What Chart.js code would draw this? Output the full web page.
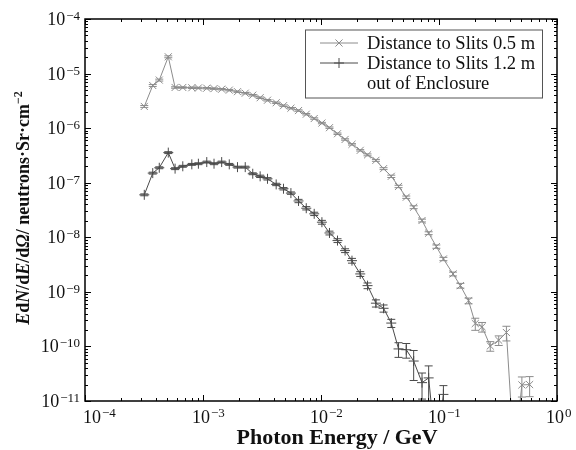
<!DOCTYPE html>
<html><head><meta charset="utf-8">
<script src="https://cdn.jsdelivr.net/npm/chart.js@4/dist/chart.umd.min.js"></script>
<style>html,body{margin:0;padding:0;background:#fff}#wrap{width:576px;height:450px}</style>
</head><body><div id="wrap"><canvas id="c" width="576" height="450"></canvas></div>
<script>
// Photon energy bins (GeV)
const energy = [3.18e-4, 3.75e-4, 4.26e-4, 5.08e-4, 5.8e-4, 6.74e-4, 8.04e-4, 9.14e-4, 1.076e-3, 1.24e-3,
  1.44e-3, 1.67e-3, 1.96e-3, 2.28e-3, 2.64e-3, 3.05e-3, 3.52e-3, 4.17e-3, 4.81e-3, 5.56e-3,
  6.45e-3, 7.5e-3, 8.76e-3, 1.018e-2, 1.18e-2, 1.38e-2, 1.6e-2, 1.83e-2, 2.15e-2, 2.48e-2,
  2.92e-2, 3.39e-2, 3.94e-2, 4.54e-2, 5.28e-2, 6.1e-2, 7.18e-2, 8.17e-2, 9.5e-2, 1.09e-1,
  1.315e-1, 1.518e-1, 1.78e-1, 2.03e-1, 2.317e-1, 2.72e-1, 3.206e-1, 3.726e-1, 4.336e-1, 5.04e-1, 5.86e-1];
// Distance to slits 0.5 m
const dist05 = [2.5e-6, 6.05e-6, 7.6e-6, 2.03e-5, 5.56e-6, 5.56e-6, 5.5e-6, 5.45e-6, 5.4e-6, 5.3e-6,
  5.17e-6, 4.97e-6, 4.66e-6, 4.37e-6, 4.02e-6, 3.61e-6, 3.25e-6, 2.92e-6, 2.58e-6, 2.32e-6,
  2.1e-6, 1.8e-6, 1.5e-6, 1.24e-6, 1.02e-6, 7.9e-7, 6.2e-7, 5.05e-7, 3.92e-7, 3.24e-7,
  2.57e-7, 1.81e-7, 1.31e-7, 8.55e-8, 5.43e-8, 3.56e-8, 2.03e-8, 1.19e-8, 6.76e-9, 4.01e-9,
  2.13e-9, 1.3e-9, 6.87e-10, 2.63e-10, 2.29e-10, 1.02e-10, 1.3e-10, 1.8e-10, 1e-12, 1.97e-11, 2.0e-11];
// Distance to slits 1.2 m, out of enclosure
const dist12 = [6.0e-8, 1.5e-7, 1.88e-7, 3.56e-7, 1.81e-7, 2.0e-7, 2.17e-7, 2.23e-7, 2.39e-7, 2.23e-7,
  2.39e-7, 2.17e-7, 1.93e-7, 1.93e-7, 1.46e-7, 1.31e-7, 1.18e-7, 9.3e-8, 7.76e-8, 6.45e-8,
  4.63e-8, 3.41e-8, 2.69e-8, 1.89e-8, 1.2e-8, 8.7e-9, 5.7e-9, 3.73e-9, 2.13e-9, 1.3e-9,
  6.2e-10, 5.0e-10, 2.68e-10, 9.0e-11, 8.7e-11, 5.4e-11, 2.17e-11, 2.65e-11, 1e-12, 1.32e-11];
// relative errors
const dist05Err = [0.04,0.04,0.04,0.04,0.03,0.03,0.03,0.03,0.03,0.03,
  0.03,0.03,0.03,0.03,0.03,0.03,0.03,0.03,0.03,0.03,
  0.03,0.03,0.03,0.03,0.03,0.03,0.03,0.03,0.03,0.04,
  0.04,0.04,0.05,0.05,0.05,0.06,0.06,0.06,0.07,0.07,
  0.08,0.1,0.12,0.25,0.2,0.2,0.2,0.3,0,0.4,0.4];
const dist12Err = [0.04,0.04,0.04,0.04,0.04,0.04,0.04,0.04,0.04,0.04,
  0.04,0.04,0.04,0.04,0.04,0.05,0.05,0.05,0.05,0.05,
  0.07,0.07,0.07,0.08,0.08,0.08,0.08,0.1,0.1,0.12,
  0.15,0.15,0.17,0.3,0.3,0.56,0.5,0.66,0,0.45];
const xDecades = [-4, -3, -2, -1, 0];
const yDecades = [-11, -10, -9, -8, -7, -6, -5, -4];
const legendLines = [['Distance to Slits 0.5 m'], ['Distance to Slits 1.2 m', 'out of Enclosure']];

const SERIF = '"Liberation Serif", "Times New Roman", serif';
const C05 = '#8c8c8c', C12 = '#4a4a4a';

function pts(ys) { return ys.map((y, i) => ({x: energy[i], y: y})); }
const visR = r => (ctx => (ctx.raw && ctx.raw.y >= 1e-11) ? r : 0);

const supMinus = s => s.replace('-', '\u2212');

const decor = {
  id: 'decor',
  afterDatasetsDraw(chart) {
    const {ctx, chartArea: a, scales: {x, y}} = chart;
    ctx.save();
    ctx.beginPath(); ctx.rect(a.left, a.top, a.right - a.left, a.bottom - a.top); ctx.clip();
    chart.data.datasets.forEach(ds => {
      ctx.strokeStyle = ds.borderColor; ctx.lineWidth = 1;
      ds.data.forEach((p, i) => {
        const r = ds.errRel[i];
        if (!r || p.y < 1e-11) return;
        const px = x.getPixelForValue(p.x);
        const hi = y.getPixelForValue(p.y * (1 + r));
        const lo = y.getPixelForValue(Math.max(p.y * (1 - r), 1e-13));
        ctx.beginPath();
        ctx.moveTo(px, hi); ctx.lineTo(px, lo);
        ctx.moveTo(px - 4, hi); ctx.lineTo(px + 4, hi);
        ctx.moveTo(px - 4, lo); ctx.lineTo(px + 4, lo);
        ctx.stroke();
      });
    });
    ctx.restore();
  },
  afterDraw(chart) {
    const {ctx, chartArea: a, scales: {x, y}} = chart;
    ctx.save();
    // frame
    ctx.strokeStyle = '#000'; ctx.lineWidth = 1.5;
    ctx.strokeRect(a.left, a.top, a.right - a.left, a.bottom - a.top);
    // ticks
    ctx.lineWidth = 1;
    ctx.beginPath();
    xDecades.forEach(k => {
      for (let m = 1; m <= 9; m++) {
        const v = m * Math.pow(10, k);
        if (v > 1.0001) break;
        const px = Math.round(x.getPixelForValue(v)) + 0.5;
        const L = m === 1 ? 6 : 3;
        ctx.moveTo(px, a.bottom); ctx.lineTo(px, a.bottom - L);
        ctx.moveTo(px, a.top); ctx.lineTo(px, a.top + L);
      }
    });
    yDecades.forEach(k => {
      for (let m = 1; m <= 9; m++) {
        const v = m * Math.pow(10, k);
        if (v > 1.0001e-4) break;
        const py = Math.round(y.getPixelForValue(v)) + 0.5;
        const L = m === 1 ? 6 : 3;
        ctx.moveTo(a.left, py); ctx.lineTo(a.left + L, py);
        ctx.moveTo(a.right, py); ctx.lineTo(a.right - L, py);
      }
    });
    ctx.stroke();
    // tick labels
    ctx.fillStyle = '#111';
    const bigF = '18px ' + SERIF, supF = '13px ' + SERIF;
    ctx.textBaseline = 'alphabetic';
    yDecades.forEach(k => {
      const py = y.getPixelForValue(Math.pow(10, k));
      const sup = supMinus(String(k));
      ctx.font = bigF; const w1 = ctx.measureText('10').width;
      ctx.font = supF; const w2 = ctx.measureText(sup).width;
      const x0 = a.left - 6 - w1 - w2;
      ctx.font = bigF; ctx.textAlign = 'left'; ctx.fillText('10', x0, py + 6);
      ctx.font = supF; ctx.fillText(sup, x0 + w1 + 1, py + 1);
    });
    xDecades.forEach(k => {
      const px = x.getPixelForValue(Math.pow(10, k));
      const sup = supMinus(String(k));
      ctx.font = bigF; const w1 = ctx.measureText('10').width;
      let x0 = px - w1 / 2 - 2;
      if (k === xDecades[0]) x0 = px - 2;
      ctx.textAlign = 'left';
      ctx.fillText('10', x0, a.bottom + 22);
      ctx.font = supF; ctx.fillText(sup, x0 + w1 + 1, a.bottom + 16);
    });
    // x title
    ctx.font = 'bold 22px ' + SERIF; ctx.textAlign = 'center';
    ctx.fillText('Photon Energy / GeV', 337, 444);
    // y title (mixed italic)
    const segs = [
      {t: 'E', i: true}, {t: 'd'}, {t: 'N', i: true}, {t: '/d'}, {t: 'E', i: true}, {t: '/d'},
      {t: '\u03A9', i: true}, {t: '/ neutrons\u00B7Sr\u00B7cm'}, {t: '\u22122', s: true}
    ];
    const fnt = sg => (sg.i ? 'italic ' : '') + 'bold ' + (sg.s ? '12px ' : '18px ') + SERIF;
    let total = 0;
    segs.forEach(sg => { ctx.font = fnt(sg); sg.w = ctx.measureText(sg.t).width; total += sg.w; });
    ctx.translate(29, (a.top + a.bottom) / 2 - 2);
    ctx.rotate(-Math.PI / 2);
    ctx.textAlign = 'left';
    let cx = -total / 2;
    segs.forEach(sg => {
      ctx.font = fnt(sg);
      ctx.fillText(sg.t, cx, sg.s ? -7 : 0);
      cx += sg.w;
    });
    ctx.setTransform(1, 0, 0, 1, 0, 0);
    // legend
    const bx = 305, by = 29.5, bw = 237, bh = 68;
    ctx.strokeStyle = '#555'; ctx.lineWidth = 1;
    ctx.fillStyle = '#fff';
    ctx.fillRect(bx, by, bw, bh);
    ctx.strokeRect(bx + 0.5, by + 0.5, bw, bh);
    const rows = [43, 63];
    chart.data.datasets.forEach((ds, i) => {
      const ly = rows[i];
      ctx.strokeStyle = ds.borderColor; ctx.lineWidth = 1;
      ctx.beginPath(); ctx.moveTo(320, ly); ctx.lineTo(358, ly); ctx.stroke();
      Chart.helpers.drawPoint(ctx, {pointStyle: ds.pointStyle, radius: 5, borderWidth: 1}, 339, ly);
      ctx.fillStyle = '#111'; ctx.font = '18.5px ' + SERIF; ctx.textBaseline = 'middle';
      legendLines[i].forEach((t, j) => ctx.fillText(t, 367, ly + j * 20 + 1));
    });
    ctx.restore();
  }
};

new Chart(document.getElementById('c'), {
  type: 'line',
  data: {
    datasets: [
      {label: legendLines[0].join(' '), data: pts(dist05), errRel: dist05Err, borderColor: C05, backgroundColor: C05,
       borderWidth: 1, pointStyle: 'crossRot', pointRadius: visR(5), pointBorderWidth: 1, pointBorderColor: C05, tension: 0},
      {label: legendLines[1].join(' '), data: pts(dist12), errRel: dist12Err, borderColor: C12, backgroundColor: C12,
       borderWidth: 1, pointStyle: 'cross', pointRadius: visR(5), pointBorderWidth: 1, pointBorderColor: C12, tension: 0}
    ]
  },
  options: {
    responsive: false, animation: false, devicePixelRatio: 1,
    layout: {padding: {left: 77, right: 19, top: 19, bottom: 41}},
    plugins: {legend: {display: false}, tooltip: {enabled: false}},
    scales: {
      x: {type: 'logarithmic', min: 1e-4, max: 1, ticks: {display: false}, grid: {display: false}, border: {display: false}},
      y: {type: 'logarithmic', min: 1e-11, max: 1e-4, ticks: {display: false}, grid: {display: false}, border: {display: false}}
    }
  },
  plugins: [decor]
});
</script></body></html>
